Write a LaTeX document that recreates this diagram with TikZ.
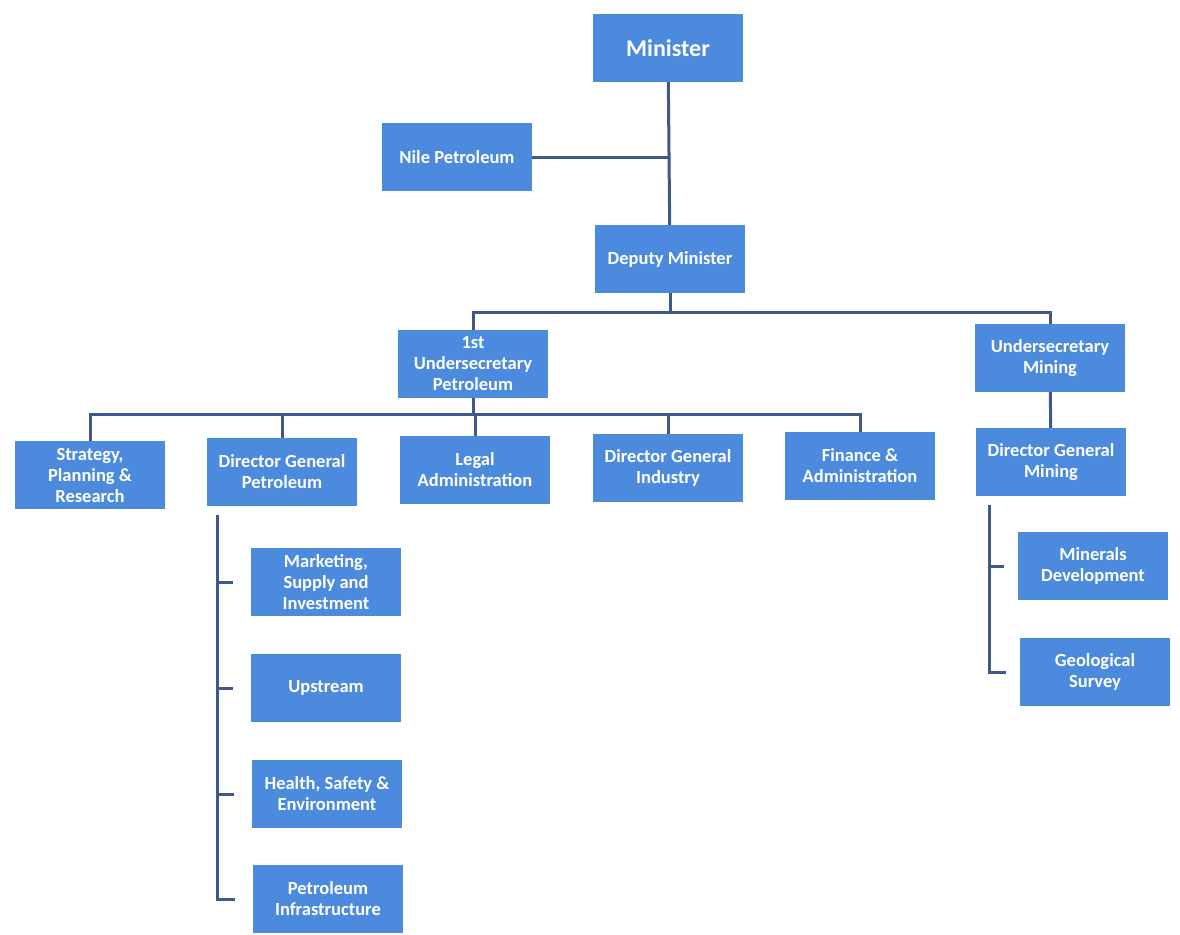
\documentclass[tikz,border=0pt]{standalone}
\usepackage{fontspec}
\setmainfont{Carlito}
\definecolor{boxblue}{RGB}{76,138,222}
\definecolor{linkblue}{RGB}{62,88,140}
\tikzset{
	unit/.style={fill=boxblue, text=white, font=\bfseries\fontsize{18.5}{21}\selectfont,
		minimum width=150pt, minimum height=68pt, align=center, inner sep=1pt},
	link/.style={draw=linkblue, line width=3pt},
}

\begin{document}
\begin{tikzpicture}[x=1pt,y=-1pt]
	\useasboundingbox (0,0) rectangle (1180,934);
	% top levels
	\node[unit, font=\bfseries\fontsize{24}{28}\selectfont] (min) at (668,48) {Minister};
	\node[unit] (nile) at (457,157) {Nile Petroleum};
	\node[unit] (dep) at (670,259) {Deputy Minister};
	\node[unit] (usp) at (473,364) {1st\\Undersecretary\\Petroleum};
	\node[unit] (usm) at (1050,358) {Undersecretary\\Mining};
	% directorates
	\node[unit] (spr) at (90,475) {Strategy,\\Planning \&\\Research};
	\node[unit] (dgp) at (282,472) {Director General\\Petroleum};
	\node[unit] (legal) at (475,470) {Legal\\Administration};
	\node[unit] (dgi) at (668,468) {Director General\\Industry};
	\node[unit] (fin) at (860,466) {Finance \&\\Administration};
	\node[unit] (dgm) at (1051,462) {Director General\\Mining};
	% petroleum units
	\node[unit] (mkt) at (326,582) {Marketing,\\Supply and\\Investment};
	\node[unit] (ups) at (326,688) {Upstream};
	\node[unit] (hse) at (327,794) {Health, Safety \&\\Environment};
	\node[unit] (infra) at (328,899) {Petroleum\\Infrastructure};
	% mining units
	\node[unit] (mdev) at (1093,566) {Minerals\\Development};
	\node[unit] (geo) at (1095,672) {Geological\\Survey};

	\draw[link] (min) -- (dep);
	\draw[link] (nile) -- (nile -| min);
	\coordinate (topbar) at (670,312);
	\draw[link] (dep) -- (topbar);
	\draw[link] (usp.north) |- (topbar) -| (usm.north);
	\coordinate (petbar) at (473,414);
	\draw[link] (usp) -- (petbar);
	\foreach \n in {spr,dgp,legal,dgi,fin}
		\draw[link] (petbar) -| (\n.north);
	\draw[link] (usm) -- (dgm);

	\coordinate (pettrunk) at ([xshift=11pt,yshift=-9pt]dgp.south west);
	\foreach \n in {mkt,ups,hse,infra}
		\draw[link, shorten >=18pt] (pettrunk) |- (\n.west);
	\coordinate (mintrunk) at ([xshift=14pt,yshift=-9pt]dgm.south west);
	\foreach \n in {mdev,geo}
		\draw[link, shorten >=14pt] (mintrunk) |- (\n.west);
\end{tikzpicture}
\end{document}
